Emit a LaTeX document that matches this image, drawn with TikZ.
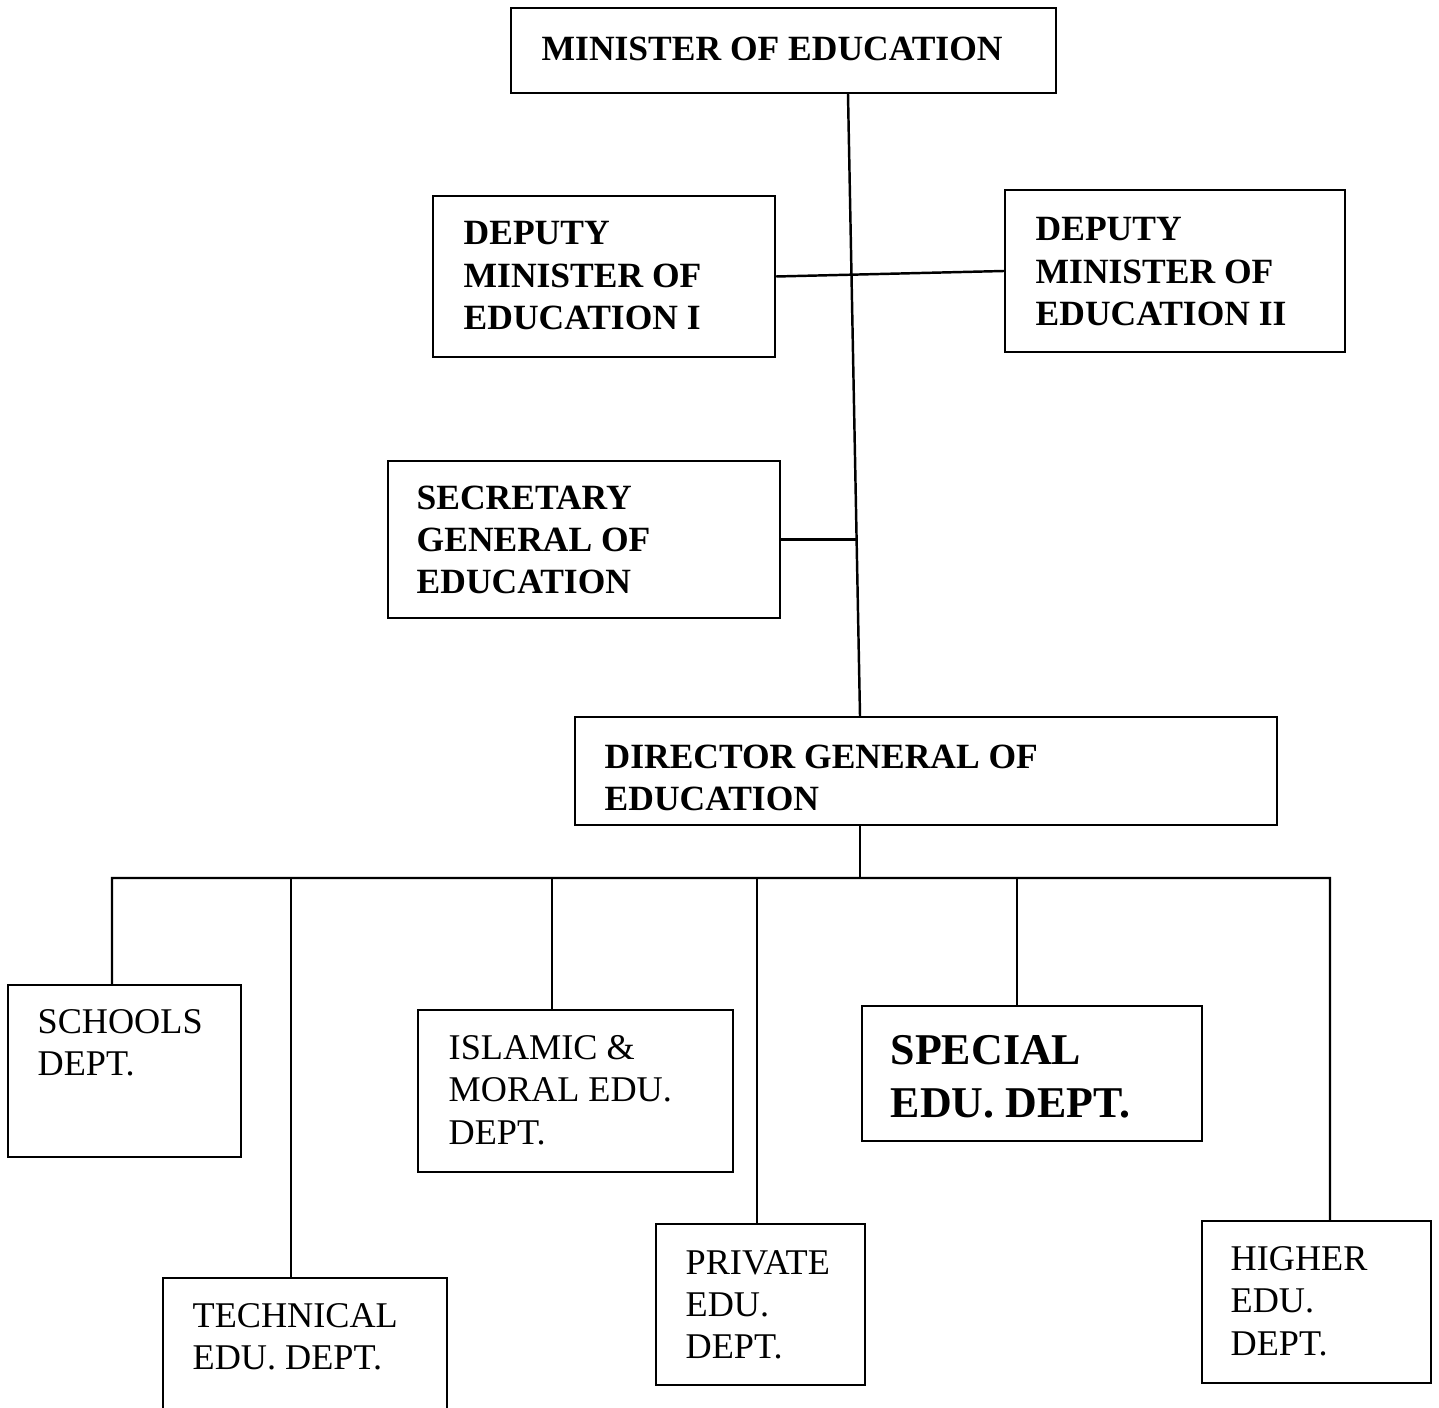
\documentclass[tikz,border=0pt]{standalone}
\usepackage{fontspec}
\setmainfont{Liberation Serif}

\tikzset{
  office/.style={draw, line width=0.7pt, inner sep=0pt},
  link/.style={line width=0.7pt},
  txt/.style={anchor=north west, inner sep=0pt, align=left, font=\fontsize{10.3}{12}\selectfont},
  headtxt/.style={txt, font=\fontsize{10.1}{12}\selectfont\bfseries}
}

\begin{document}
\begin{tikzpicture}[x=0.1mm, y=-0.1mm]
        \clip (0,0) rectangle (1439,1408);
        \useasboundingbox (0,0) rectangle (1439,1408);
        % boxes
        \node[office, minimum width=54.5mm, minimum height=8.5mm] (minister) at (783.5,50.5) {};
        \node[office, minimum width=34.2mm, minimum height=16.1mm] (dep1) at (604,276.5) {};
        \node[office, minimum width=34mm, minimum height=16.2mm] (dep2) at (1175,271) {};
        \node[office, minimum width=39.2mm, minimum height=15.7mm] (secr) at (584,539.5) {};
        \node[office, minimum width=70.2mm, minimum height=10.8mm] (dirgen) at (926,771) {};
        \node[office, minimum width=23.3mm, minimum height=17.2mm] (schools) at (124.5,1071) {};
        \node[office, minimum width=28.4mm, minimum height=15.2mm] (technical) at (305,1354) {};
        \node[office, minimum width=31.5mm, minimum height=16.2mm] (islamic) at (575.5,1091) {};
        \node[office, minimum width=20.9mm, minimum height=16.1mm] (private) at (760.5,1304.5) {};
        \node[office, minimum width=34mm, minimum height=13.5mm] (special) at (1032,1073.5) {};
        \node[office, minimum width=22.9mm, minimum height=16.2mm] (higher) at (1316.5,1302) {};
        % texts
        \node[headtxt] (ministert) at (541,36) {MINISTER OF EDUCATION};
        \node[headtxt] (dep1t) at (463,221) {DEPUTY\\MINISTER OF\\EDUCATION I};
        \node[headtxt] (dep2t) at (1035,217) {DEPUTY\\MINISTER OF\\EDUCATION II};
        \node[headtxt] (secrt) at (416,485) {SECRETARY\\GENERAL OF\\EDUCATION};
        \node[headtxt] (dirgent) at (604,744) {DIRECTOR GENERAL OF\\EDUCATION};
        \node[txt] (schoolst) at (37,1009) {SCHOOLS\\DEPT.};
        \node[txt] (technicalt) at (192,1303) {TECHNICAL\\EDU. DEPT.};
        \node[txt] (islamict) at (448,1035) {ISLAMIC \&\\MORAL EDU.\\DEPT.};
        \node[txt] (privatet) at (685,1250) {PRIVATE\\EDU.\\DEPT.};
        \node[txt, font=\fontsize{12.5}{15}\selectfont\bfseries] (specialt) at (890,1035) {SPECIAL\\EDU. DEPT.};
        \node[txt] (highert) at (1230,1246) {HIGHER\\EDU.\\DEPT.};
        % lines
        \draw[link] ([xshift=6.45mm]minister.south) -- ([xshift=-6.6mm]dirgen.north);
        \draw[link] (dep1.east) -- (dep2.west);
        \coordinate (secjoin) at (856.6,539.5);
        \draw[link] (secr.east) -- (secr.east -| secjoin);
        \coordinate (busl) at (112,878);
        \coordinate (busr) at (1330,878);
        \draw[link] ([xshift=-6.6mm]dirgen.south) -- ([xshift=-6.6mm]dirgen.south |- busl);
        \draw[link] ([xshift=-1.25mm]schools.north) |- (busr) -- ([xshift=1.35mm]higher.north);
        \draw[link] ([xshift=-1.4mm]technical.north) -- ([xshift=-1.4mm]technical.north |- busl);
        \draw[link] ([xshift=-2.35mm]islamic.north) -- ([xshift=-2.35mm]islamic.north |- busl);
        \draw[link] ([xshift=-0.35mm]private.north) -- ([xshift=-0.35mm]private.north |- busl);
        \draw[link] ([xshift=-1.5mm]special.north) -- ([xshift=-1.5mm]special.north |- busl);
    \end{tikzpicture}
\end{document}
